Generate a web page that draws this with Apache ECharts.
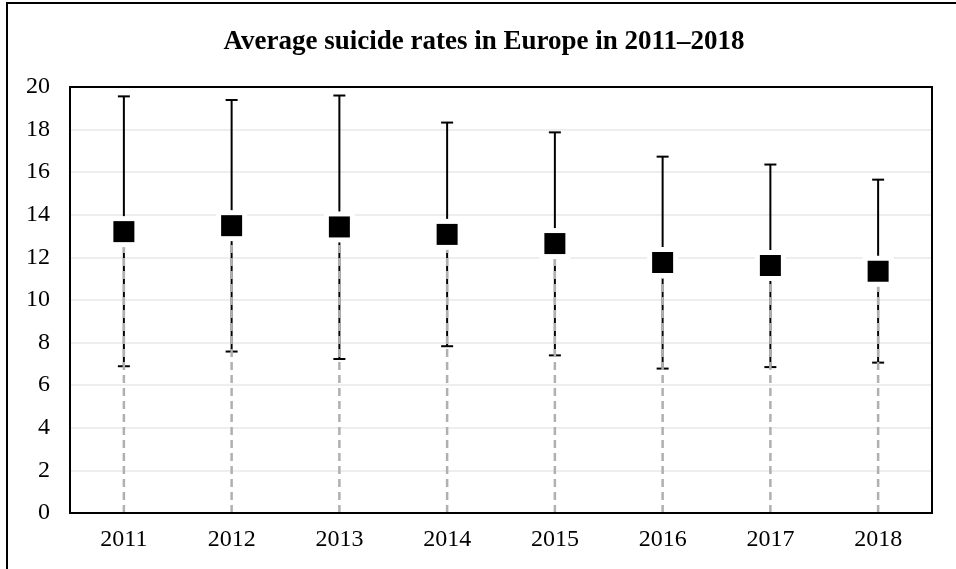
<!DOCTYPE html>
<html>

<head>
    <meta charset="utf-8">
    <title>Average suicide rates in Europe in 2011–2018</title>
    <script src="https://cdn.jsdelivr.net/npm/echarts@6/dist/echarts.min.js"></script>
    <style>
        html, body { margin: 0; padding: 0; background: #fff; }
    </style>
</head>

<body>
    <div id="main" style="width: 956px;height:569px;"></div>

    <script type="text/javascript">
        // values
        var years = ['2011', '2012', '2013', '2014', '2015', '2016', '2017', '2018'];
        var means = [13.21, 13.49, 13.43, 13.08, 12.65, 11.76, 11.62, 11.35];
        var upper = [19.56, 19.39, 19.60, 18.33, 17.87, 16.73, 16.36, 15.65];
        var lower = [6.89, 7.58, 7.23, 7.83, 7.40, 6.78, 6.85, 7.06];

        var font = 'Liberation Serif, Times New Roman, serif';

        var dom = document.getElementById('main');
        var myChart = echarts.init(dom);

        // error bar: vertical line with caps at both ends
        function renderErrorBar(params, api) {
            var idx = api.value(0);
            var lo = api.coord([idx, api.value(1)]);
            var hi = api.coord([idx, api.value(2)]);
            var half = 6;
            var style = { stroke: '#000', lineWidth: 2 };
            return {
                type: 'group',
                children: [
                    { type: 'line', shape: { x1: hi[0], y1: hi[1], x2: lo[0], y2: lo[1] }, style: style },
                    { type: 'line', shape: { x1: hi[0] - half, y1: hi[1], x2: hi[0] + half, y2: hi[1] }, style: style },
                    { type: 'line', shape: { x1: lo[0] - half, y1: lo[1], x2: lo[0] + half, y2: lo[1] }, style: style }
                ]
            };
        }

        // drop line from the axis up to the point
        function renderDropLine(params, api) {
            var idx = api.value(0);
            var base = api.coord([idx, 0]);
            var top = api.coord([idx, api.value(1)]);
            return {
                type: 'line',
                shape: { x1: base[0], y1: base[1], x2: top[0], y2: top[1] },
                style: { stroke: '#b0b0b0', lineWidth: 2.5, lineDash: [8, 5] }
            };
        }

        var barData = years.map(function (y, i) { return [i, lower[i], upper[i]]; });
        var dropData = years.map(function (y, i) { return [i, means[i]]; });

        var axisLineStyle = { show: true, onZero: false, lineStyle: { color: '#000', width: 2 } };

        var option = {
            animation: false,
            backgroundColor: '#fff',
            title: {
                text: 'Average suicide rates in Europe in 2011–2018',
                left: 479,
                textAlign: 'center',
                top: 24,
                textStyle: {
                    fontFamily: font,
                    fontWeight: 'bold',
                    fontSize: 27,
                    color: '#000'
                }
            },
            graphic: [{
                type: 'rect',
                shape: { x: 7, y: 3, width: 1000, height: 1000 },
                style: { fill: null, stroke: '#000', lineWidth: 2 },
                silent: true
            }],
            grid: {
                left: 70,
                right: 24,
                top: 87,
                bottom: 56,
                show: true,
                borderColor: '#000',
                borderWidth: 2
            },
            xAxis: [{
                type: 'category',
                data: years,
                boundaryGap: true,
                z: 3,
                axisLine: axisLineStyle,
                axisTick: { show: false },
                axisLabel: {
                    margin: 15,
                    color: '#000',
                    fontFamily: font,
                    fontSize: 24
                }
            }, {
                // top edge of the plot frame
                type: 'category',
                data: years,
                position: 'top',
                z: 3,
                axisLine: axisLineStyle,
                axisTick: { show: false },
                axisLabel: { show: false }
            }],
            yAxis: [{
                type: 'value',
                min: 0,
                max: 20,
                interval: 2,
                z: 1,
                axisLine: axisLineStyle,
                axisTick: { show: false },
                splitLine: { lineStyle: { color: '#e8e8e8', width: 1.5 } },
                axisLabel: {
                    margin: 20,
                    color: '#000',
                    fontFamily: font,
                    fontSize: 24
                }
            }, {
                // right edge of the plot frame
                type: 'value',
                min: 0,
                max: 20,
                interval: 2,
                position: 'right',
                z: 3,
                axisLine: axisLineStyle,
                axisTick: { show: false },
                splitLine: { show: false },
                axisLabel: { show: false }
            }],
            series: [{
                type: 'custom',
                name: 'range',
                renderItem: renderErrorBar,
                data: barData,
                z: 2
            }, {
                type: 'custom',
                name: 'drop',
                renderItem: renderDropLine,
                data: dropData,
                z: 3
            }, {
                // white halo around the markers
                type: 'scatter',
                data: means,
                symbol: 'rect',
                symbolSize: 31,
                itemStyle: { color: '#fff', opacity: 1 },
                silent: true,
                z: 4
            }, {
                type: 'scatter',
                name: 'mean',
                data: means,
                symbol: 'rect',
                symbolSize: 21,
                itemStyle: { color: '#000', opacity: 1 },
                z: 5
            }]
        };

        if (option && typeof option === "object") {
            myChart.setOption(option, true);
        }
    </script>
</body>

</html>
